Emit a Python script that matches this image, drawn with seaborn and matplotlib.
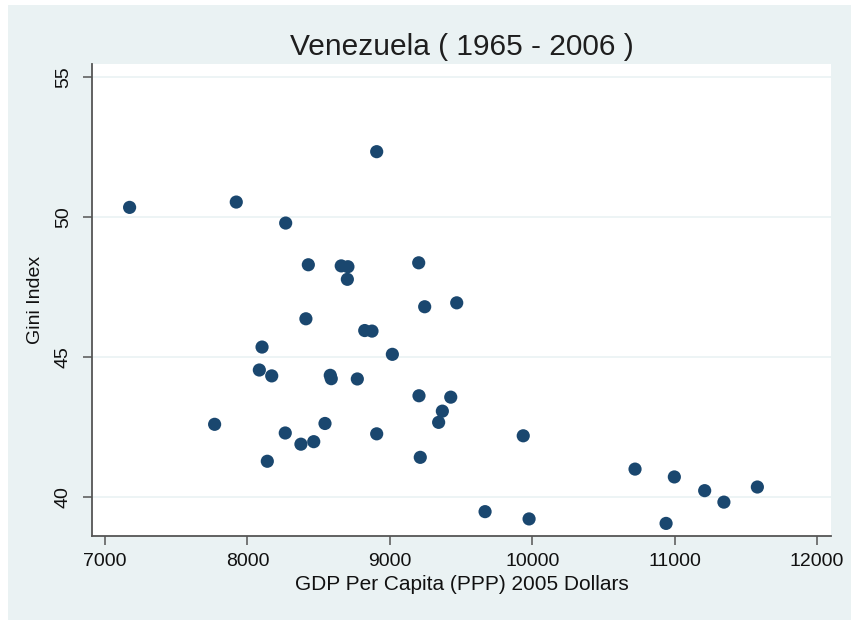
import matplotlib
matplotlib.use("Agg")
import matplotlib.pyplot as plt
import pandas as pd
import seaborn as sns
from matplotlib.patches import Rectangle

# Venezuela, 1965-2006: GDP per capita (PPP, 2005 $) vs Gini index
gdp = [7173, 7922, 8269, 8908, 7770, 8428, 8659, 8706, 8702, 9203,
       9245, 9470, 8411, 8824, 8875, 9018, 8103, 8084, 8171, 8582,
       8589, 8772, 9205, 9428, 9369, 9343, 8545, 8266, 8908, 8466,
       8376, 8140, 9214, 9937, 10722, 10998, 11211, 11346, 11581, 10940,
       9978, 9669]
gini = [50.36, 50.55, 49.80, 52.35, 42.61, 48.31, 48.27, 48.24, 47.79, 48.38,
        46.81, 46.95, 46.38, 45.96, 45.94, 45.11, 45.37, 44.55, 44.34, 44.36,
        44.24, 44.23, 43.63, 43.58, 43.08, 42.68, 42.64, 42.30, 42.27, 41.99,
        41.90, 41.29, 41.43, 42.20, 41.01, 40.73, 40.24, 39.83, 40.37, 39.07,
        39.23, 39.49]
x_ticks = [7000, 8000, 9000, 10000, 11000, 12000]
y_ticks = [40, 45, 50, 55]

df = pd.DataFrame({"gdp": gdp, "gini": gini})

sns.set_style("white")
plt.rcParams["font.family"] = ["Liberation Sans", "DejaVu Sans"]

bg = "#EAF2F3"
fig = plt.figure(figsize=(8.51, 6.20), dpi=100, facecolor=bg)
# thin white margin on the left and top edges
fig.patches.append(Rectangle((0, 0), 8 / 851, 1, transform=fig.transFigure,
                             facecolor="white", edgecolor="none"))
fig.patches.append(Rectangle((0, (620 - 5) / 620), 1, 5 / 620, transform=fig.transFigure,
                             facecolor="white", edgecolor="none"))
ax = fig.add_axes([92 / 851, (620 - 536) / 620, (831 - 92) / 851, (536 - 63.5) / 620])
ax.set_facecolor("white")

sns.scatterplot(data=df, x="gdp", y="gini", ax=ax, color="#1A476F", s=90,
                edgecolor="none", zorder=3)

ax.set_xlim(6909, 12098)
ax.set_ylim(38.62, 55.5)
ax.set_xticks(x_ticks)
ax.set_yticks(y_ticks)
ax.set_yticklabels([str(v) for v in y_ticks], rotation=90, va="center")
ax.yaxis.grid(True, color=bg, linewidth=1.2)
ax.xaxis.grid(False)

for side in ["top", "right"]:
    ax.spines[side].set_visible(False)
for side in ["left", "bottom"]:
    ax.spines[side].set_color("#555555")
    ax.spines[side].set_linewidth(1.3)

ax.tick_params(axis="both", direction="out", length=6.5, width=1.1, color="#555555",
               labelsize=14, labelcolor="#111111", left=True, bottom=True)
ax.tick_params(axis="x", pad=6)
ax.tick_params(axis="y", pad=8)

ax.set_xlabel("GDP Per Capita (PPP) 2005 Dollars", fontsize=15, color="#111111", labelpad=3)
ax.set_ylabel("Gini Index", fontsize=14, color="#111111", labelpad=8)
ax.set_title("Venezuela ( 1965 - 2006 )", fontsize=21.5, color="#1e1e1e", pad=6)

fig.savefig("out.png", dpi=100, facecolor=fig.get_facecolor())
